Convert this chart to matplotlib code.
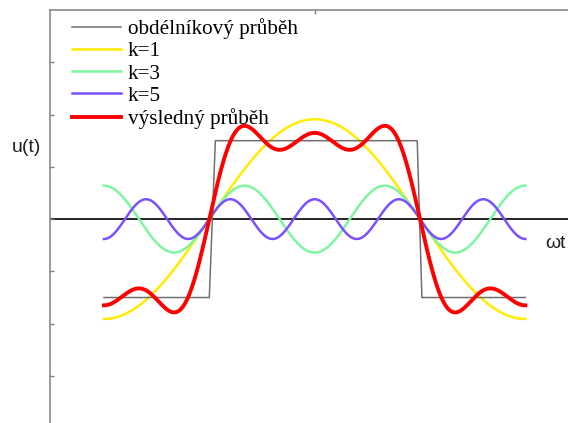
import numpy as np
import matplotlib
import matplotlib.pyplot as plt

matplotlib.use('Agg')

# harmonics of the square wave (order, amplitude)
orders = [1, 3, 5]
amplitudes = [1.91, 0.64, 0.38]
harmonic_labels = ['k=1', 'k=3', 'k=5']
harmonic_colors = ['#ffec00', '#7ff5a0', '#7a50ff']

# square wave corners (omega t, u)
square_x = [-1.571, 0.0, 0.09, 3.10, 3.17, 4.712]
square_y = [-1.5, -1.5, 1.5, 1.5, -1.5, -1.5]

# drawn range of the curves
wt_from, wt_to = -np.pi / 2, 3 * np.pi / 2
y_ticks = [-3, -2, -1, 0, 1, 2, 3]

fig = plt.figure(figsize=(5.68, 4.23), dpi=100)
ax = fig.add_axes([50 / 568, 0, 1 - 50 / 568, 1 - 10 / 423])

wt = np.linspace(wt_from, wt_to, 600)

ax.plot(square_x, square_y, color='#707070', lw=1.1, label='obdélníkový průběh', zorder=3)
total = np.zeros_like(wt)
for k, a, lab, c in zip(orders, amplitudes, harmonic_labels, harmonic_colors):
    u = a * np.sin(k * wt)
    total += u
    ax.plot(wt, u, color=c, lw=1.8, label=lab, zorder=2)
ax.plot(wt, total, color='#ff0000', lw=2.8, label='výsledný průběh', zorder=4)

ax.axhline(0, color='black', lw=1.2, zorder=1)

ax.set_xlim(-2.375, 5.348)
ax.set_ylim(-3.9, 4.0)

for s in ['right', 'bottom']:
    ax.spines[s].set_visible(False)
for s in ['left', 'top']:
    ax.spines[s].set_color('#808080')
    ax.spines[s].set_linewidth(1.1)

ax.set_yticks(y_ticks)
ax.set_yticklabels([])
ax.set_xticks([np.pi / 2])
ax.set_xticklabels([])
ax.tick_params(axis='y', direction='in', length=3, width=1, color='#808080', left=True)
ax.tick_params(axis='x', direction='in', length=3, width=1, color='#808080',
               top=True, bottom=False)

fig.text(26 / 568, 1 - 147 / 423, 'u(t)', fontsize=14, family=['Liberation Sans', 'DejaVu Sans'],
         ha='center', va='center', color='#222222')
fig.text(545 / 568, 1 - 243 / 423, 'ωt', fontsize=14, family=['Liberation Sans', 'DejaVu Sans'],
         ha='left', va='center', color='#222222')

ax.legend(loc='upper left', bbox_to_anchor=(72 / 568, 1 - 18 / 423),
          bbox_transform=fig.transFigure, frameon=False, borderpad=0,
          borderaxespad=0, handlelength=2.3, handletextpad=0.33, labelspacing=0.12,
          prop={'family': 'Liberation Serif', 'size': 15.2})

fig.savefig('out.png', dpi=100)
